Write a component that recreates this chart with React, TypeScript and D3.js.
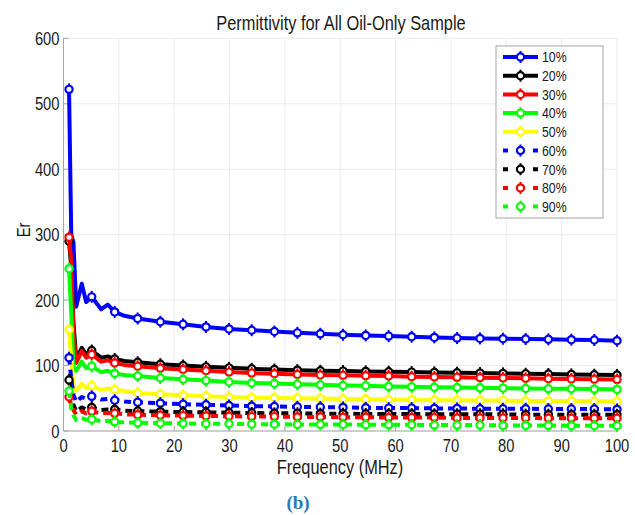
import React from "react";
import * as d3 from "d3";

const freqs = [1, 1.4, 1.8, 2.3, 3.3, 4.1, 5.1, 6.8, 8, 9.25, 11, 13.4, 17.5, 21.6, 25.75, 29.9, 34, 38.1, 42.25, 46.4, 50.5, 54.6, 58.75, 62.9, 67, 71.1, 75.25, 79.4, 83.5, 87.6, 91.75, 95.9, 100];
const markerFreqs = [1, 5.1, 9.25, 13.4, 17.5, 21.6, 25.75, 29.9, 34, 38.1, 42.25, 46.4, 50.5, 54.6, 58.75, 62.9, 67, 71.1, 75.25, 79.4, 83.5, 87.6, 91.75, 95.9, 100];

const s10 = [522, 300, 288, 190, 225, 197, 205, 186, 193, 182, 176, 172, 167, 163, 159, 156, 154, 152, 150, 148.5, 147, 146, 145, 144, 143, 142, 141.5, 141, 140.5, 140, 139.5, 139, 138];
const s20 = [290, 250, 165, 110, 127, 117, 123, 112, 114, 110, 107, 105, 102, 100, 98, 96.5, 95, 94, 93, 92, 91.5, 91, 90.5, 90, 89.5, 89, 88.5, 88, 87.5, 87, 86.5, 86, 85.5];
const s30 = [296, 260, 150, 104, 122, 112, 117, 106, 108, 104, 101, 99, 96, 94, 92, 90, 88.5, 87.5, 86.5, 85.5, 85, 84.5, 84, 83, 82.5, 82, 81.5, 81, 80.5, 80, 79.5, 79, 78.5];
const s40 = [248, 180, 98, 92, 106, 96, 99, 90, 92, 88, 85.5, 84, 81, 79, 77, 75, 73.5, 72.5, 71.5, 70.5, 69.5, 69, 68, 67.5, 67, 66.5, 66, 65.5, 65, 64.5, 64.5, 64, 63.5];
const s50 = [155, 110, 68, 62, 72, 66, 69, 63, 65, 63, 61, 58, 56, 54.5, 53, 52, 51, 50.5, 50, 49.5, 49, 48.5, 48, 47.5, 47, 47, 46.5, 46.5, 46, 46, 46, 45.5, 45.5];
const s60 = [112, 80, 55, 45, 52, 49, 53, 48, 49, 47, 45, 44, 42.5, 41, 40, 39, 38, 37.5, 37, 36.5, 36, 35.5, 35, 35, 34.5, 34.5, 34, 34, 34, 33.5, 33.5, 33.5, 33];
const s70 = [78, 55, 40, 30, 36, 33, 36, 32, 33, 33, 31, 30.5, 29.5, 29, 28.5, 28, 27.5, 27, 27, 26.5, 26.5, 26, 26, 26, 25.5, 25.5, 25.5, 25.5, 25, 25, 25, 25, 25];
const s80 = [52, 40, 32, 25, 30, 27, 30, 27, 28, 27, 25.5, 25, 24, 23.5, 23, 22.5, 22, 22, 21.5, 21.5, 21, 21, 20.5, 20.5, 20.5, 20, 20, 20, 20, 19.5, 19.5, 19.5, 19.5];
const s90 = [61, 35, 24, 17, 20, 17, 18, 15, 15.5, 14, 13, 12.5, 12, 11.5, 11, 11, 10.5, 10.5, 10, 10, 10, 9.5, 9.5, 9.5, 9, 9, 9, 8.5, 8.5, 8.5, 8, 8, 8];

const seriesNames = ["10%", "20%", "30%", "40%", "50%", "60%", "70%", "80%", "90%"];
const seriesValues = [s10, s20, s30, s40, s50, s60, s70, s80, s90];
const seriesColors = ["#0000ff", "#000000", "#ff0000", "#00ff00", "#ffff00", "#0000ff", "#000000", "#ff0000", "#00ff00"];
const seriesDashed = [false, false, false, false, false, true, true, true, true];

const xTicks = [0, 10, 20, 30, 40, 50, 60, 70, 80, 90, 100];
const yTicks = [0, 100, 200, 300, 400, 500, 600];

const W = 635;
const H = 515;
const left = 63.5;
const right = 617;
const top = 38.3;
const bottom = 431;
const FONT = "'Liberation Sans', Arial, sans-serif";
const SX = 0.82;
const DASH = "7,5";

function NText({
  x,
  y,
  size,
  anchor = "start",
  rotate = 0,
  children,
}: {
  x: number;
  y: number;
  size: number;
  anchor?: string;
  rotate?: number;
  children: React.ReactNode;
}) {
  return (
    <g transform={`translate(${x},${y}) rotate(${rotate}) scale(${SX},1)`}>
      <text x={0} y={0} textAnchor={anchor} fontFamily={FONT} fontSize={size} fill="#1a1a1a">
        {children}
      </text>
    </g>
  );
}

function Marker({ x, y, color }: { x: number; y: number; color: string }) {
  return (
    <g>
      <line x1={x} x2={x} y1={y - 6} y2={y + 6} stroke={color} strokeWidth={2} />
      <circle cx={x} cy={y} r={3.6} fill="#fff" stroke={color} strokeWidth={2.2} />
    </g>
  );
}

export default function App() {
  const x = d3.scaleLinear().domain([0, 100]).range([left, right]);
  const y = d3.scaleLinear().domain([0, 600]).range([bottom, top]);
  const line = d3
    .line<number>()
    .x((_, i) => x(freqs[i]))
    .y((d) => y(d));

  const legX = 496;
  const legY = 46;
  const legW = 107;
  const legRow = 18.7;

  return (
    <svg
      width={W}
      height={H}
      style={{ position: "absolute", left: 0, top: 0, background: "#fff" }}
    >
      <rect x={0} y={0} width={W} height={H} fill="#fff" />
      {/* grid */}
      {xTicks.map((t) => (
        <line key={"gx" + t} x1={x(t)} x2={x(t)} y1={top} y2={bottom} stroke="#ebebeb" strokeWidth={1} />
      ))}
      {yTicks.map((t) => (
        <line key={"gy" + t} x1={left} x2={right} y1={y(t)} y2={y(t)} stroke="#ebebeb" strokeWidth={1} />
      ))}
      {/* axes */}
      <line x1={left} x2={left} y1={top} y2={bottom} stroke="#a6a6a6" strokeWidth={1} />
      <line x1={left} x2={right} y1={bottom} y2={bottom} stroke="#a6a6a6" strokeWidth={1} />
      {xTicks.map((t) => (
        <g key={"tx" + t}>
          <line x1={x(t)} x2={x(t)} y1={bottom} y2={bottom - 5} stroke="#a6a6a6" />
          <NText x={x(t)} y={452} size={18} anchor="middle">
            {t}
          </NText>
        </g>
      ))}
      {yTicks.map((t) => (
        <g key={"ty" + t}>
          <line x1={left} x2={left + 5} y1={y(t)} y2={y(t)} stroke="#a6a6a6" />
          <NText x={left - 4} y={y(t) + 6.5} size={18} anchor="end">
            {t}
          </NText>
        </g>
      ))}
      {/* series */}
      {seriesValues.map((vals, si) => (
        <g key={"s" + si}>
          <path
            d={line(vals) || ""}
            fill="none"
            stroke={seriesColors[si]}
            strokeWidth={4}
            strokeDasharray={seriesDashed[si] ? DASH : undefined}
            strokeLinejoin="round"
          />
          {vals.map((v, i) =>
            markerFreqs.includes(freqs[i]) ? (
              <Marker key={i} x={x(freqs[i])} y={y(v)} color={seriesColors[si]} />
            ) : null
          )}
        </g>
      ))}
      {/* title and labels */}
      <NText x={341} y={30} size={20} anchor="middle">
        Permittivity for All Oil-Only Sample
      </NText>
      <NText x={340} y={474} size={20} anchor="middle">
        Frequency (MHz)
      </NText>
      <NText x={30} y={230} size={18} anchor="middle" rotate={-90}>
        Er
      </NText>
      <text
        x={298}
        y={509}
        textAnchor="middle"
        fontFamily="'Liberation Serif', 'Times New Roman', serif"
        fontWeight="bold"
        fontSize={19}
        fill="#2b78b8"
      >
        (b)
      </text>
      {/* legend */}
      <rect x={legX} y={legY} width={legW} height={172} fill="#fff" stroke="#a6a6a6" strokeWidth={1} />
      {seriesNames.map((name, i) => {
        const cy = legY + 11 + i * legRow;
        return (
          <g key={"l" + i}>
            <line
              x1={503}
              x2={538}
              y1={cy}
              y2={cy}
              stroke={seriesColors[i]}
              strokeWidth={4}
              strokeDasharray={seriesDashed[i] ? "5,8.5,8,8.5,5" : undefined}
            />
            <Marker x={520.5} y={cy} color={seriesColors[i]} />
            <NText x={542} y={cy + 5.3} size={15}>
              {name}
            </NText>
          </g>
        );
      })}
    </svg>
  );
}
